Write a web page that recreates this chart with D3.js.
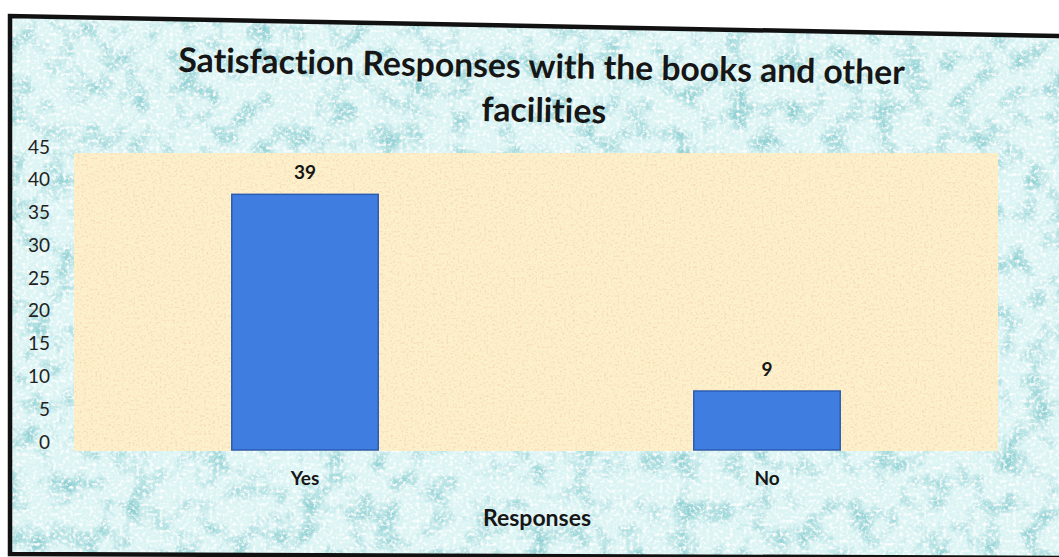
<!DOCTYPE html>
<html>
<head>
<meta charset="utf-8">
<script src="https://cdn.jsdelivr.net/npm/d3@7"></script>
<style>
  html, body { margin: 0; padding: 0; background: #fff; }
  svg { display: block; }
  text { font-family: Lato, "Open Sans", sans-serif; fill: #161616; font-variant-ligatures: none; }
  .title { font-weight: 700; font-size: 31px; }
  .axis-title { font-weight: 700; font-size: 23px; }
  .cat-label { font-weight: 700; font-size: 19px; }
  .val-label { font-weight: 700; font-size: 19px; }
  .y-label { font-size: 19px; fill: #222; }
</style>
</head>
<body>
<svg id="chart"></svg>
<script>
const W = 1059;
const H = 557;

const categories = ["Yes", "No"];
const counts = [39, 9];
const yTicks = [0, 5, 10, 15, 20, 25, 30, 35, 40, 45];
const titleLines = ["Satisfaction Responses with the books and other", "facilities"];
const xTitle = "Responses";

const PLOT = { left: 74, right: 998, top: 153, bottom: 451 };

const svg = d3.select("#chart")
  .attr("width", W)
  .attr("height", H)
  .attr("viewBox", `0 0 ${W} ${H}`);

const defs = svg.append("defs");

// photo-ish water drop texture behind the chart
const drops = defs.append("filter").attr("id", "drops")
  .attr("x", 0).attr("y", 0).attr("width", "100%").attr("height", "100%");
drops.append("feTurbulence")
  .attr("type", "fractalNoise").attr("baseFrequency", "0.04")
  .attr("numOctaves", 4).attr("seed", 7).attr("result", "n1");
drops.append("feColorMatrix").attr("in", "n1").attr("type", "matrix")
  .attr("values", "0 0 0 0 0.28  0 0 0 0 0.64  0 0 0 0 0.66  2.8 0 0 0 -1.3")
  .attr("result", "teal");
drops.append("feTurbulence")
  .attr("type", "fractalNoise").attr("baseFrequency", "0.3")
  .attr("numOctaves", 2).attr("seed", 3).attr("result", "n2");
drops.append("feColorMatrix").attr("in", "n2").attr("type", "matrix")
  .attr("values", "0 0 0 0 1  0 0 0 0 1  0 0 0 0 1  0 3 0 0 -1.4")
  .attr("result", "white");
const dm = drops.append("feMerge");
dm.append("feMergeNode").attr("in", "teal");
dm.append("feMergeNode").attr("in", "white");

const speckle = defs.append("filter").attr("id", "speckle")
  .attr("x", 0).attr("y", 0).attr("width", "100%").attr("height", "100%");
speckle.append("feTurbulence")
  .attr("type", "fractalNoise").attr("baseFrequency", "0.45")
  .attr("numOctaves", 2).attr("seed", 11);
speckle.append("feColorMatrix").attr("type", "matrix")
  .attr("values", "0 0 0 0 0.93  0 0 0 0 0.68  0 0 0 0 0.45  2.6 0 0 0 -1.25");

const frameShape = [[10, 16], [W, 36], [W, H], [10, 554]];
defs.append("clipPath").attr("id", "frame-clip")
  .append("polygon").attr("points", frameShape.map(p => p.join(",")).join(" "));

const bgG = svg.append("g").attr("clip-path", "url(#frame-clip)");
bgG.append("rect").attr("width", W).attr("height", H).attr("fill", "#dcf4f4");
bgG.append("rect").attr("width", W).attr("height", H).attr("fill", "#000").attr("filter", "url(#drops)");

// frame border
svg.append("polyline")
  .attr("points", [[W, 36], [10, 16], [10, 554], [W, 558]].map(p => p.join(",")).join(" "))
  .attr("fill", "none")
  .attr("stroke", "#111")
  .attr("stroke-width", 4.5);

// scales
const x = d3.scaleBand()
  .domain(categories)
  .range([PLOT.left, PLOT.right])
  .paddingInner(0.683)
  .paddingOuter(0.3415);

const y = d3.scaleLinear()
  .domain([0, 45])
  .range([450, 155]);

// plot area
svg.append("rect")
  .attr("x", PLOT.left).attr("y", PLOT.top)
  .attr("width", PLOT.right - PLOT.left).attr("height", PLOT.bottom - PLOT.top)
  .attr("fill", "#fdf1cc");
svg.append("rect")
  .attr("x", PLOT.left).attr("y", PLOT.top)
  .attr("width", PLOT.right - PLOT.left).attr("height", PLOT.bottom - PLOT.top)
  .attr("fill", "#000")
  .attr("filter", "url(#speckle)");

// bars
const data = categories.map((c, i) => ({ cat: c, val: counts[i] }));

svg.selectAll(".bar")
  .data(data)
  .join("rect")
  .attr("class", "bar")
  .attr("x", d => x(d.cat))
  .attr("y", d => y(d.val))
  .attr("width", x.bandwidth())
  .attr("height", d => y(0) - y(d.val))
  .attr("fill", "#3f7de0")
  .attr("stroke", "#2b5db3")
  .attr("stroke-width", 1.5);

svg.selectAll(".val-label")
  .data(data)
  .join("text")
  .attr("class", "val-label")
  .attr("x", d => x(d.cat) + x.bandwidth() / 2)
  .attr("y", d => y(d.val) - 15)
  .attr("text-anchor", "middle")
  .text(d => d.val);

// y axis labels
const yAxis = svg.append("g")
  .attr("transform", `translate(${PLOT.left},0)`)
  .call(d3.axisLeft(y).tickValues(yTicks).tickSize(0).tickPadding(24));
yAxis.select(".domain").remove();
yAxis.selectAll("text")
  .attr("class", "y-label")
  .attr("y", -8)
  .attr("font-family", null)
  .attr("font-size", null)
  .attr("fill", null);

// x axis labels
const xAxis = svg.append("g")
  .attr("transform", `translate(0,${PLOT.bottom - 1})`)
  .call(d3.axisBottom(x).tickSize(0).tickPadding(22));
xAxis.select(".domain").remove();
xAxis.selectAll("text")
  .attr("class", "cat-label")
  .attr("font-family", null)
  .attr("font-size", null)
  .attr("fill", null);

svg.append("text")
  .attr("class", "axis-title")
  .attr("x", 537)
  .attr("y", 526)
  .attr("text-anchor", "middle")
  .text(xTitle);

// title, a bit tilted like the photo
const tg = svg.append("g").attr("transform", "rotate(1,541,100)");
const t1 = tg.append("text")
  .attr("class", "title")
  .attr("x", 541).attr("y", 78)
  .attr("text-anchor", "middle")
  .text(titleLines[0]);
tg.append("text")
  .attr("class", "title")
  .attr("x", 544).attr("y", 122)
  .attr("text-anchor", "middle")
  .text(titleLines[1]);

// scale title so line 1 spans ~727px as in the picture
const len = t1.node().getComputedTextLength();
if (len > 0) {
  const fs = 31 * 727 / len;
  tg.selectAll("text").style("font-size", fs.toFixed(1) + "px");
}
</script>
</body>
</html>
